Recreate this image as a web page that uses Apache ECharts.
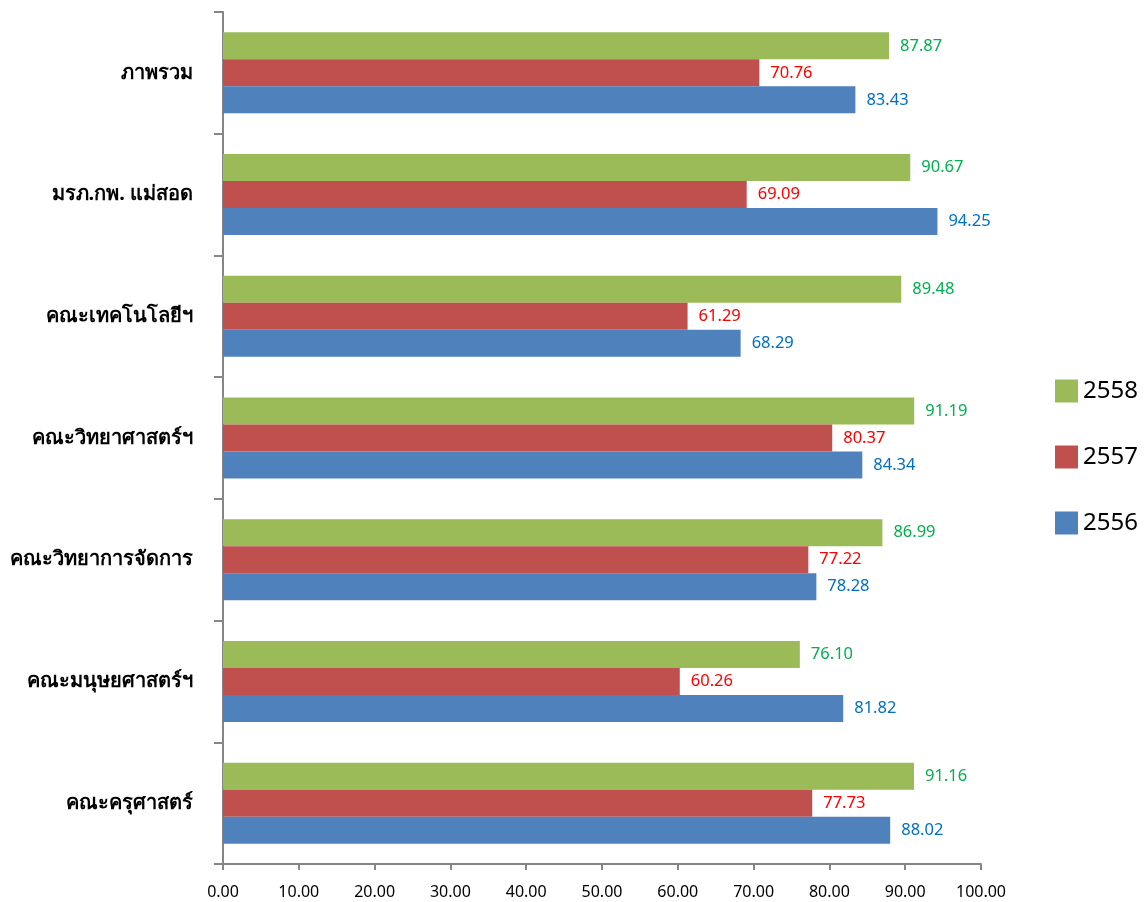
<!DOCTYPE html>
<html><head><meta charset="utf-8">
<script src="https://cdn.jsdelivr.net/npm/echarts@6/dist/echarts.min.js"></script>
<style>html,body{margin:0;padding:0;background:#fff}#c{width:1147px;height:902px}</style>
</head><body><div id="c"></div>
<script>
const categories = ['คณะครุศาสตร์','คณะมนุษยศาสตร์ฯ','คณะวิทยาการจัดการ','คณะวิทยาศาสตร์ฯ','คณะเทคโนโลยีฯ','มรภ.กพ. แม่สอด','ภาพรวม'];
const v2556 = [88.02, 81.82, 78.28, 84.34, 68.29, 94.25, 83.43];
const v2557 = [77.73, 60.26, 77.22, 80.37, 61.29, 69.09, 70.76];
const v2558 = [91.16, 76.10, 86.99, 91.19, 89.48, 90.67, 87.87];
const seriesNames = ['2558','2557','2556'];

const FONT = 'Tahoma, "Noto Sans", "DejaVu Sans", sans-serif';
const axisColor = '#868686';
function mk(name, data, color, labelColor){
  return {name, type:'bar', data, barWidth:27, barGap:'0%',
    itemStyle:{color},
    label:{show:true, position:'right', distance:11, color:labelColor, fontSize:16.5, fontFamily:FONT,
      formatter:p=>p.value.toFixed(2)}};
}
const chart = echarts.init(document.getElementById('c'));
chart.setOption({
  animation:false,
  grid:{left:223, right:166, top:12, bottom:38},
  legend:{orient:'vertical', left:1050, top:374, itemWidth:23, itemHeight:23, itemGap:42,
    data:seriesNames, icon:'rect',
    textStyle:{fontSize:24, fontFamily:FONT, color:'#000', padding:[0,0,0,0]}},
  xAxis:{type:'value', min:0, max:100, interval:10,
    axisLine:{show:true, lineStyle:{color:axisColor, width:2}},
    axisTick:{show:true, length:6, lineStyle:{color:axisColor, width:2}},
    splitLine:{show:false},
    axisLabel:{formatter:v=>v.toFixed(2), fontSize:16, fontFamily:FONT, color:'#000', margin:20}},
  yAxis:{type:'category', data:categories,
    axisLine:{show:true, lineStyle:{color:axisColor, width:2}},
    axisTick:{show:true, length:9, lineStyle:{color:axisColor, width:2}},
    axisLabel:{fontSize:20, fontWeight:'bold', fontFamily:FONT, color:'#000', margin:30}},
  series:[
    mk('2558', v2558, '#9bbb59', '#00b050'),
    mk('2557', v2557, '#c0504d', '#ff0000'),
    mk('2556', v2556, '#4f81bd', '#0070c0')
  ]
});
</script></body></html>
